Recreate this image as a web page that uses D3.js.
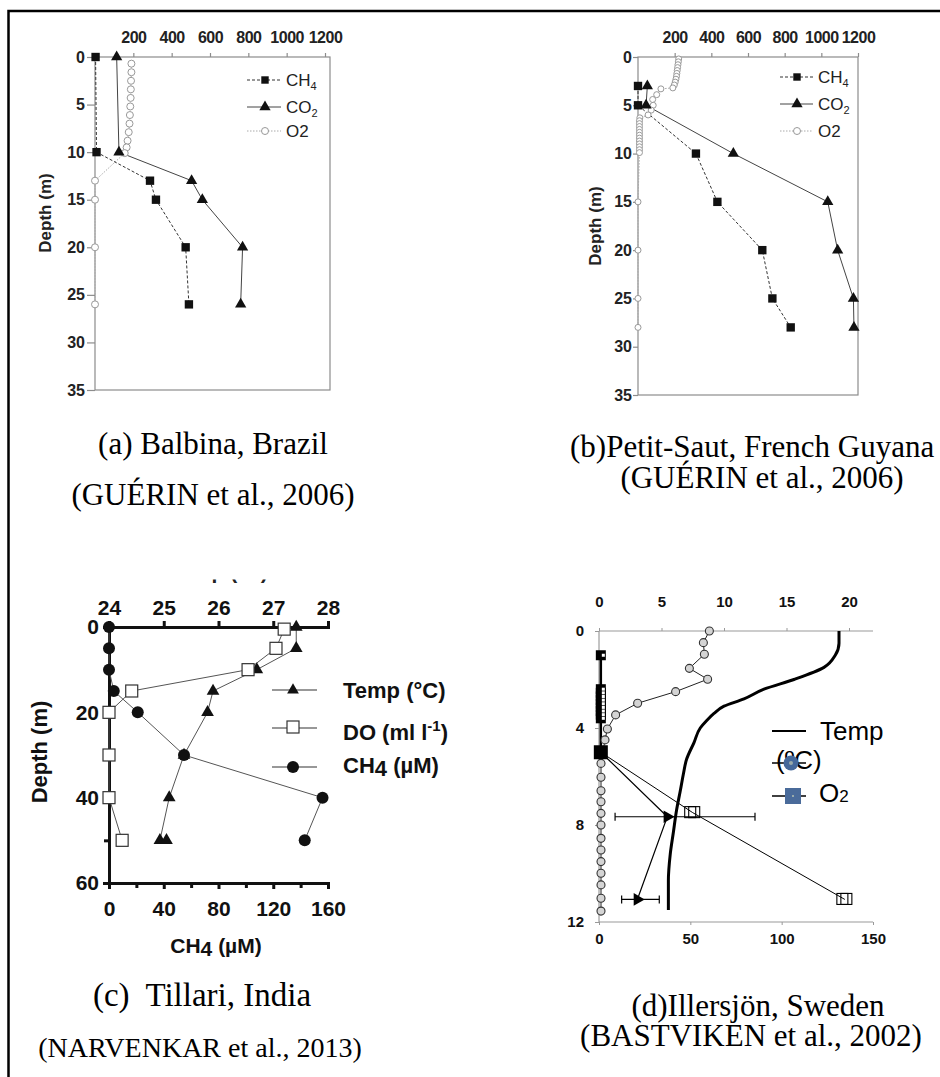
<!DOCTYPE html>
<html><head><meta charset="utf-8">
<script src="https://cdn.jsdelivr.net/npm/d3@7"></script>
<style>body{margin:0;background:#fff}svg{display:block}</style>
</head><body>
<svg id="chart" width="940" height="1077"></svg>
<script>
// ================= DATA =================
// (a) Balbina, Brazil — [depth (m), concentration]
const balbinaCH4 = [[0,3],[10,8],[13,287],[15,318],[20,473],[26,490]];
const balbinaCO2 = [[0,113],[10,125],[13,504],[15,560],[20,770],[26,760]];
const balbinaO2  = [[0.7,190],[1.6,190],[2.5,188],[3.4,187],[4.3,186],[5.2,184],[6.1,182],[7.0,180],[7.9,176],[8.8,170],[9.5,165],[10.1,155],[13,0],[15,0],[20,0],[26,0]];
// (b) Petit-Saut, French Guyana
const petitCH4 = [[3,0],[5,0],[10,316],[15,433],[20,678],[25,733],[28,833]];
const petitCO2 = [[3,51],[5,44],[10,520],[15,1035],[20,1089],[25,1175],[28,1178]];
const petitO2  = [[0.2,222],[0.5,220],[0.8,218],[1.1,216],[1.4,214],[1.7,212],[2.0,210],[2.3,207],[2.6,203],[2.9,198],[3.2,190],[3.3,125],[3.9,102],[4.4,80],[5.0,83],[5.5,72],[6.0,55],[6.3,10],[6.6,8],[6.9,8],[7.2,8],[7.5,8],[7.8,8],[8.1,8],[8.4,8],[8.7,8],[9.0,8],[9.3,8],[9.6,8],[9.9,8],[15,0],[20,0],[25,0],[28,0]];
const gasTicksX = [200,400,600,800,1000,1200];
const gasTicksY = [0,5,10,15,20,25,30,35];
const gasLegend = ["CH4","CO2","O2"];
// (c) Tillari, India
const tillariTemp = [[0,27.42],[5,27.42],[10,26.7],[15,25.9],[20,25.8],[30,25.37],[40,25.1],[50,24.93],[50,25.05]];
const tillariDO   = [[0.5,6.4],[5,6.1],[10,5.08],[15,0.83],[20,0],[30,0],[40,0],[50,0.48]];
const tillariCH4  = [[0,0],[5,0],[10,0],[15,3.5],[20,21],[30,54.8],[40,156],[50,143]];
const tillTempTicks = [24,25,26,27,28];
const tillCH4Ticks = [0,40,80,120,160];
const tillCH4Minor = [20,60,100,140];
const tillDepthTicks = [0,20,40,60];
const tillDepthMinor = [10,30,50];
// (d) Illersjön, Sweden
const illTemp = [[0,19.2],[0.5,19.2],[1.0,18.9],[1.5,18.0],[2.0,15.6],[2.4,13.2],[2.8,11.6],[3.1,10.0],[3.4,9.2],[3.7,8.6],[4.0,8.1],[4.6,7.6],[5.3,7.0],[5.9,6.75],[6.6,6.5],[7.4,6.2],[8.3,5.95],[9.2,5.7],[10.3,5.55],[11.5,5.55]];
const illO2 = [[0,8.83],[0.48,8.35],[0.96,8.43],[1.54,7.23],[1.99,8.69],[2.5,6.13],[2.98,3.09],[3.46,1.33],[4.04,0.67],[4.49,0.48],[5.46,0.16],[6.03,0.16],[6.59,0.16],[7.04,0.16],[7.52,0.16],[8.0,0.16],[8.55,0.16],[9.03,0.16],[9.51,0.16],[9.99,0.16],[10.47,0.16],[11.02,0.16],[11.55,0.16]];
const illSquares = [[1.0,1],[2.4,1],[2.55,1],[2.7,1],[2.85,1],[3.0,1],[3.15,1],[3.3,1],[3.45,1],[3.6,1],[5.0,1]];
const illTriangles = [[7.66,37.4,8.8,85.4],[11.07,21,12.4,33]]; // depth, value, low, high
const illOpenSq = [[7.49,51.3],[11.07,134.6]];
const illTopTicks = [0,5,10,15,20];
const illBotTicks = [0,50,100,150];
const illDepthTicks = [0,4,8,12];
// captions: text, x, baseline, font size, anchor
const captions = [
  ["(a) Balbina, Brazil", 213, 454, 31],
  ["(GUÉRIN et al., 2006)", 213, 505, 31],
  ["(b)Petit-Saut, French Guyana", 570, 457, 31, "start"],
  ["(GUÉRIN et al., 2006)", 762, 488, 31],
  ["(c)  Tillari, India", 202, 1006, 33],
  ["(NARVENKAR et al., 2013)", 200, 1057, 28],
  ["(d)Illersjön, Sweden", 758, 1016, 31],
  ["(BASTVIKEN et al., 2002)", 751, 1046, 31]
];

// ================= DRAWING =================
const SANS = '"Liberation Sans", Arial, Helvetica, sans-serif';
const SERIF = '"Liberation Serif", "Times New Roman", serif';
const svg = d3.select('#chart');

// outer frame (left + top)
svg.append('path').attr('d','M8.5,1077V11H940').attr('fill','none').attr('stroke','#000').attr('stroke-width',2.5);

function styleAxis(g, size, weight, color, lineColor, lw){
  g.selectAll('text').attr('font-family',SANS).attr('font-size',size).attr('font-weight',weight).attr('fill',color);
  g.selectAll('line').attr('stroke',lineColor).attr('stroke-width',lw);
  g.selectAll('.domain').attr('stroke',lineColor).attr('stroke-width',lw);
}

// ---------- panels (a) and (b) ----------
function gasPanel(o){
  const x = d3.scaleLinear([0,1200], o.xr), y = d3.scaleLinear([0,35], o.yr);
  const g = svg.append('g');
  g.append('rect').attr('x',o.xr[0]).attr('y',o.yr[0]).attr('width',o.frameR-o.xr[0]).attr('height',o.yr[1]-o.yr[0])
    .attr('fill','none').attr('stroke','#8c8c8c').attr('stroke-width',1.2);
  const ta = g.append('g').attr('transform',`translate(0,${o.yr[0]})`)
    .call(d3.axisTop(x).tickValues(gasTicksX).tickFormat(d3.format('d')).tickSize(4).tickPadding(10));
  ta.select('.domain').remove();
  styleAxis(ta, 16, 'bold', '#222', '#8c8c8c', 1.2);
  ta.selectAll('text').attr('letter-spacing',-0.5);
  const la = g.append('g').attr('transform',`translate(${o.xr[0]},0)`)
    .call(d3.axisLeft(y).tickValues(gasTicksY).tickSize(o.ytick).tickPadding(o.ypad));
  la.select('.domain').remove();
  styleAxis(la, 16, 'bold', '#222', '#8c8c8c', 1.2);
  g.append('text').attr('transform',`translate(${o.ylabX},${o.ylabY}) rotate(-90)`).attr('text-anchor','middle')
    .attr('font-family',SANS).attr('font-size',17).attr('font-weight','bold').attr('fill','#222').text('Depth (m)');

  const line = d3.line().x(d=>x(d[1])).y(d=>y(d[0]));
  g.append('path').datum(o.o2).attr('d',line).attr('fill','none').attr('stroke','#aaa').attr('stroke-width',1).attr('stroke-dasharray','1.5,1.5');
  g.append('path').datum(o.ch4).attr('d',line).attr('fill','none').attr('stroke','#333').attr('stroke-width',1).attr('stroke-dasharray','3,2');
  g.append('path').datum(o.co2).attr('d',line).attr('fill','none').attr('stroke','#444').attr('stroke-width',1);
  g.selectAll('.o2').data(o.o2).join('circle').attr('cx',d=>x(d[1])).attr('cy',d=>y(d[0])).attr('r',o.cr)
    .attr('fill','#fff').attr('stroke','#999').attr('stroke-width',1);
  g.selectAll('.ch4').data(o.ch4).join('path').attr('transform',d=>`translate(${x(d[1])},${y(d[0])})`)
    .attr('d',d3.symbol(d3.symbolSquare,70)).attr('fill','#111');
  g.selectAll('.co2').data(o.co2).join('path').attr('transform',d=>`translate(${x(d[1])},${y(d[0])})`)
    .attr('d',d3.symbol(d3.symbolTriangle,55)).attr('fill','#111');

  // legend
  const styles = [
    {dash:'3,2', col:'#333', sym:'sq'},
    {dash:null, col:'#444', sym:'tri'},
    {dash:'1.5,1.5', col:'#aaa', sym:'circ'}
  ];
  gasLegend.forEach((name,i)=>{
    const ly = o.legY[i], s = styles[i];
    g.append('line').attr('x1',o.legX[0]).attr('x2',o.legX[1]).attr('y1',ly).attr('y2',ly)
      .attr('stroke',s.col).attr('stroke-width',1).attr('stroke-dasharray',s.dash);
    if(s.sym==='circ') g.append('circle').attr('cx',o.legX[2]).attr('cy',ly).attr('r',3.5).attr('fill','#fff').attr('stroke','#999');
    else g.append('path').attr('transform',`translate(${o.legX[2]},${ly})`)
      .attr('d',d3.symbol(s.sym==='sq'?d3.symbolSquare:d3.symbolTriangle, 55)).attr('fill','#111');
    const t = g.append('text').attr('x',o.legX[3]).attr('y',ly+6).attr('font-family',SANS).attr('font-size',17).attr('fill','#222');
    if(name==='O2'){ t.text('O2'); }
    else { t.text(name.slice(0,-1)); t.append('tspan').attr('font-size',11).attr('dy',4).text(name.slice(-1)); }
  });
}
gasPanel({xr:[95,325], frameR:330, yr:[57,390], ytick:8, ypad:2, ylabX:51, ylabY:213, cr:3.5,
  ch4:balbinaCH4, co2:balbinaCO2, o2:balbinaO2, legY:[80,107,131], legX:[247,281,265,286]});
gasPanel({xr:[638,858], frameR:858, yr:[57,395], ytick:5, ypad:1, ylabX:601, ylabY:226, cr:3,
  ch4:petitCH4, co2:petitCO2, o2:petitO2, legY:[77,104,131], legX:[780,813,797,818]});

// ---------- panel (c) ----------
(function(){
  const xT = d3.scaleLinear([24,28],[109,328]);
  const xC = d3.scaleLinear([0,160],[109,328]);
  const xD = d3.scaleLinear([0,8],[109,328]);
  const y  = d3.scaleLinear([0,60],[627,883]);
  const g = svg.append('g');
  // clipped title at top (cut off in the source)
  g.append('clipPath').attr('id','cTitle').append('rect').attr('x',100).attr('y',579.5).attr('width',240).attr('height',12);
  g.append('text').attr('clip-path','url(#cTitle)').attr('x',170).attr('y',579).attr('font-family',SANS).attr('font-size',21)
    .attr('font-weight','bold').attr('fill','#222').text('Temp (°C)');

  const ta = g.append('g').attr('transform','translate(0,627)').call(d3.axisTop(xT).tickValues(tillTempTicks).tickFormat(d3.format('d')).tickSize(6).tickPadding(6));
  styleAxis(ta, 21, 'bold', '#111', '#111', 3);
  const ba = g.append('g').attr('transform','translate(0,883)').call(d3.axisBottom(xC).tickValues(tillCH4Ticks).tickSize(6).tickPadding(12));
  styleAxis(ba, 21, 'bold', '#111', '#111', 3);
  const bm = g.append('g').attr('transform','translate(0,883)').call(d3.axisBottom(xC).tickValues(tillCH4Minor).tickSize(5).tickFormat(''));
  bm.select('.domain').remove(); styleAxis(bm, 10, 'bold', '#111', '#111', 3);
  const la = g.append('g').attr('transform','translate(109,0)').call(d3.axisLeft(y).tickValues(tillDepthTicks).tickSize(6).tickPadding(4));
  styleAxis(la, 21, 'bold', '#111', '#111', 3);
  la.selectAll('.tick line').attr('x2',-6).attr('x1',6);
  const lm = g.append('g').attr('transform','translate(109,0)').call(d3.axisLeft(y).tickValues(tillDepthMinor).tickSize(5).tickFormat(''));
  lm.select('.domain').remove(); styleAxis(lm, 10, 'bold', '#111', '#111', 3);

  g.append('text').attr('transform','translate(47,752) rotate(-90)').attr('text-anchor','middle').attr('font-family',SANS)
    .attr('font-size',22).attr('font-weight','bold').attr('fill','#111').text('Depth (m)');
  const bl = g.append('text').attr('x',216).attr('y',953).attr('text-anchor','middle').attr('font-family',SANS).attr('font-size',21).attr('font-weight','bold').attr('fill','#111');
  bl.append('tspan').text('CH'); bl.append('tspan').attr('dy',3).text('4'); bl.append('tspan').attr('dy',-3).text(' (µM)');

  const lt = d3.line().x(d=>xT(d[1])).y(d=>y(d[0]));
  const ld = d3.line().x(d=>xD(d[1])).y(d=>y(d[0]));
  const lc = d3.line().x(d=>xC(d[1])).y(d=>y(d[0]));
  [[tillariTemp,lt],[tillariDO,ld],[tillariCH4,lc]].forEach(([data,l])=>{
    g.append('path').datum(data).attr('d',l).attr('fill','none').attr('stroke','#555').attr('stroke-width',1);
  });
  g.selectAll('.tt').data(tillariTemp).join('path').attr('transform',d=>`translate(${xT(d[1])},${y(d[0])})`)
    .attr('d',d3.symbol(d3.symbolTriangle,70)).attr('fill','#111');
  g.selectAll('.td').data(tillariDO).join('rect').attr('x',d=>xD(d[1])-6).attr('y',d=>y(d[0])-6).attr('width',12).attr('height',12)
    .attr('fill','#fff').attr('stroke','#333').attr('stroke-width',1.2);
  g.selectAll('.tc').data(tillariCH4).join('circle').attr('cx',d=>xC(d[1])).attr('cy',d=>y(d[0])).attr('r',6).attr('fill','#111');

  // legend
  const rows = [690,728,767];
  rows.forEach((ly,i)=>{
    g.append('line').attr('x1',272).attr('x2',317).attr('y1',ly).attr('y2',ly).attr('stroke','#333').attr('stroke-width',1.2);
    if(i===0) g.append('path').attr('transform',`translate(293,${ly})`).attr('d',d3.symbol(d3.symbolTriangle,60)).attr('fill','#111');
    if(i===1) g.append('rect').attr('x',287).attr('y',ly-7).attr('width',12).attr('height',12).attr('fill','#fff').attr('stroke','#333').attr('stroke-width',1.2);
    if(i===2) g.append('circle').attr('cx',293).attr('cy',ly).attr('r',6).attr('fill','#111');
  });
  g.append('text').attr('x',343).attr('y',698).attr('font-family',SANS).attr('font-size',22).attr('font-weight','bold').attr('fill','#111').text('Temp (°C)');
  const t2 = g.append('text').attr('x',343).attr('y',740).attr('font-family',SANS).attr('font-size',22).attr('font-weight','bold').attr('fill','#111');
  t2.append('tspan').text('DO (ml l'); t2.append('tspan').attr('font-size',15).attr('dy',-9).text('-1'); t2.append('tspan').attr('dy',9).text(')');
  const t3 = g.append('text').attr('x',343).attr('y',773).attr('font-family',SANS).attr('font-size',22).attr('font-weight','bold').attr('fill','#111');
  t3.append('tspan').text('CH'); t3.append('tspan').attr('dy',3).text('4'); t3.append('tspan').attr('dy',-3).text(' (µM)');
})();

// ---------- panel (d) ----------
(function(){
  const xTop = d3.scaleLinear([0,20],[599,849]);
  const xBot = d3.scaleLinear([0,150],[599,873]);
  const y = d3.scaleLinear([0,12],[631,922]);
  const g = svg.append('g');
  const right = xBot.range()[1];
  // axis lines
  g.append('line').attr('x1',599).attr('x2',right).attr('y1',y(0)).attr('y2',y(0)).attr('stroke','#999').attr('stroke-width',1);
  g.append('line').attr('x1',599).attr('x2',right).attr('y1',y(12)).attr('y2',y(12)).attr('stroke','#999').attr('stroke-width',1);
  g.append('line').attr('x1',599).attr('x2',599).attr('y1',y(0)).attr('y2',y(12)).attr('stroke','#888').attr('stroke-width',1);
  const ta = g.append('g').attr('transform',`translate(0,${y(0)})`).call(d3.axisTop(xTop).tickValues(illTopTicks).tickSize(3).tickPadding(21));
  ta.select('.domain').remove(); styleAxis(ta, 15, 'bold', '#111', '#999', 1);
  const ba = g.append('g').attr('transform',`translate(0,${y(12)})`).call(d3.axisBottom(xBot).tickValues(illBotTicks).tickSize(3).tickPadding(8));
  ba.select('.domain').remove(); styleAxis(ba, 15, 'bold', '#111', '#999', 1);
  const la = g.append('g').attr('transform','translate(599,0)').call(d3.axisLeft(y).tickValues(illDepthTicks).tickSize(4).tickPadding(11));
  la.select('.domain').remove(); styleAxis(la, 15, 'bold', '#111', '#999', 1);

  // temperature curve
  const lT = d3.line().x(d=>xTop(d[1])).y(d=>y(d[0])).curve(d3.curveMonotoneY);
  g.append('path').datum(illTemp).attr('d',lT).attr('fill','none').attr('stroke','#000').attr('stroke-width',3);
  // lines from 5 m square to triangles and open squares
  const start = illSquares[illSquares.length-1];
  const lB = d3.line().x(d=>xBot(d[1])).y(d=>y(d[0]));
  g.append('path').datum([start].concat(illOpenSq)).attr('d',lB).attr('fill','none').attr('stroke','#000').attr('stroke-width',1);
  g.append('path').datum([start].concat(illTriangles.map(d=>[d[0],d[1]]))).attr('d',lB).attr('fill','none').attr('stroke','#000').attr('stroke-width',1.2);
  // vertical squares line
  g.append('path').datum(illSquares).attr('d',lB).attr('fill','none').attr('stroke','#000').attr('stroke-width',2.5);
  // O2 circles
  const lO = d3.line().x(d=>xTop(d[1])).y(d=>y(d[0]));
  g.append('path').datum(illO2).attr('d',lO).attr('fill','none').attr('stroke','#222').attr('stroke-width',1);
  g.selectAll('.oc').data(illO2).join('circle').attr('cx',d=>xTop(d[1])).attr('cy',d=>y(d[0])).attr('r',4)
    .attr('fill','#d4d4d4').attr('stroke','#333').attr('stroke-width',1.1);
  // squares
  const last = illSquares.length-1;
  g.selectAll('.sq').data(illSquares).join('rect')
    .attr('x',(d,i)=>xBot(d[1])-(i===last?7:5)).attr('y',(d,i)=>y(d[0])-(i===last?7:5))
    .attr('width',(d,i)=>i===last?14:10).attr('height',(d,i)=>i===last?14:10).attr('fill','#000');
  g.selectAll('.sqi').data(illSquares.slice(0,-1)).join('rect').attr('x',d=>xBot(d[1])+1).attr('y',d=>y(d[0])-1.5)
    .attr('width',3).attr('height',3).attr('fill','#fff');
  // error bars + triangles
  illTriangles.forEach(d=>{
    const yy = y(d[0]);
    g.append('line').attr('x1',xBot(d[2])).attr('x2',xBot(d[3])).attr('y1',yy).attr('y2',yy).attr('stroke','#000').attr('stroke-width',1.2);
    [d[2],d[3]].forEach(v=>g.append('line').attr('x1',xBot(v)).attr('x2',xBot(v)).attr('y1',yy-4).attr('y2',yy+4).attr('stroke','#000').attr('stroke-width',1.2));
    g.append('path').attr('transform',`translate(${xBot(d[1])},${yy}) rotate(90)`).attr('d',d3.symbol(d3.symbolTriangle,70)).attr('fill','#000');
  });
  // open squares (doubled)
  illOpenSq.forEach(d=>{
    [-2,2].forEach(off=>g.append('rect').attr('x',xBot(d[1])-6+off).attr('y',y(d[0])-6).attr('width',11).attr('height',11)
      .attr('fill','none').attr('stroke','#000').attr('stroke-width',1.1));
  });
  // legend
  g.append('line').attr('x1',772).attr('x2',806).attr('y1',731).attr('y2',731).attr('stroke','#000').attr('stroke-width',2);
  g.append('text').attr('x',820).attr('y',740).attr('font-family',SANS).attr('font-size',26).attr('fill','#000').text('Temp');
  g.append('text').attr('x',776).attr('y',769).attr('font-family',SANS).attr('font-size',26).attr('fill','#000').text('(ºC)');
  g.append('line').attr('x1',772).attr('x2',806).attr('y1',763).attr('y2',763).attr('stroke','#000').attr('stroke-width',1.5);
  g.append('circle').attr('cx',791).attr('cy',763).attr('r',7.5).attr('fill','#45699b');
  g.append('circle').attr('cx',791).attr('cy',763).attr('r',2).attr('fill','#9aa');
  g.append('line').attr('x1',772).attr('x2',806).attr('y1',796).attr('y2',796).attr('stroke','#000').attr('stroke-width',1.5);
  g.append('rect').attr('x',785).attr('y',788).attr('width',16).attr('height',16).attr('fill','#4a6b9a');
  g.append('rect').attr('x',792).attr('y',795).attr('width',2).attr('height',2).attr('fill','#9aa');
  const o2t = g.append('text').attr('x',819).attr('y',802).attr('font-family',SANS).attr('font-size',26).attr('fill','#000');
  o2t.append('tspan').text('O'); o2t.append('tspan').attr('font-size',17).text('2');
})();

// ---------- captions ----------
captions.forEach(c=>{
  svg.append('text').attr('x',c[1]).attr('y',c[2]).attr('text-anchor',c[4]||'middle').style('white-space','pre')
    .attr('font-family',SERIF).attr('font-size',c[3]).attr('fill','#000').text(c[0]);
});
</script>
</body></html>
